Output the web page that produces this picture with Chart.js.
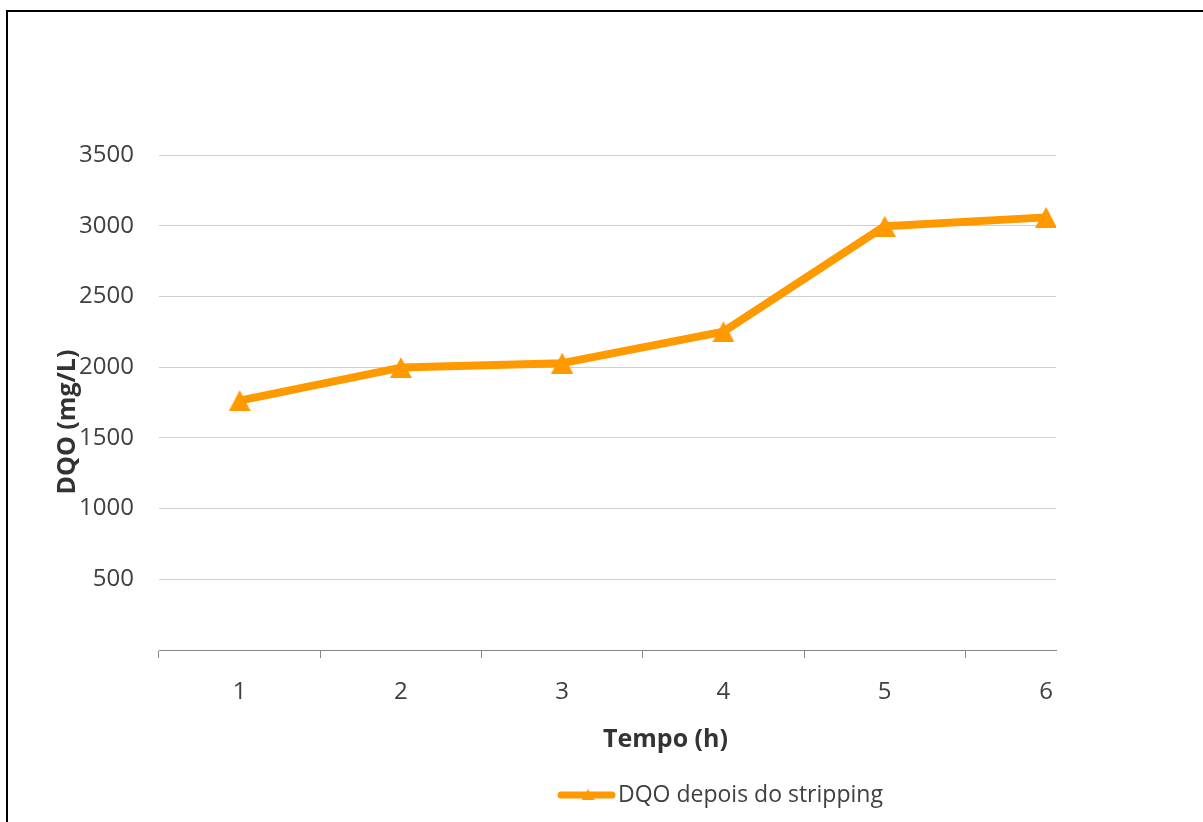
<!DOCTYPE html>
<html>
<head>
<meta charset="utf-8">
<title>DQO depois do stripping</title>
<script src="https://cdn.jsdelivr.net/npm/chart.js@4/dist/chart.umd.min.js"></script>
<style>
  html, body { margin: 0; padding: 0; background: #ffffff; overflow: hidden; }
  #wrap { position: relative; width: 1203px; height: 822px; }
  #frame {
    position: absolute; left: 6px; top: 10px; right: 0; bottom: 0;
    border-top: 2px solid #000; border-left: 2px solid #000;
    pointer-events: none;
  }
  canvas { position: absolute; left: 0; top: 0; }
</style>
</head>
<body>
<div id="wrap">
  <canvas id="chart" width="1203" height="822"></canvas>
  <div id="frame"></div>
</div>
<script>
// Tempo de stripping (h) e DQO medida (mg/L)
const hours = [1, 2, 3, 4, 5, 6];
const dqo = [1763, 1997, 2028, 2251, 2997, 3059];
const yTicks = [0, 500, 1000, 1500, 2000, 2500, 3000, 3500];

const seriesLabel = 'DQO depois do stripping';
const xTitle = 'Tempo (h)';
const yTitle = 'DQO (mg/L)';

const ORANGE = '#FF9900';
const TEXT = '#404040';
const TITLE = '#333333';

// triangle marker, centred on its own bounding box
function triangleMarker(w, h) {
  const c = document.createElement('canvas');
  c.width = w; c.height = h;
  const g = c.getContext('2d');
  g.fillStyle = ORANGE;
  g.beginPath();
  g.moveTo(w / 2, 0);
  g.lineTo(w, h);
  g.lineTo(0, h);
  g.closePath();
  g.fill();
  return c;
}
const marker = triangleMarker(22, 21);
const legendMarker = triangleMarker(13, 11);

// axis titles and legend placed at fixed spots
const decorations = {
  id: 'decorations',
  afterDraw(chart) {
    const ctx = chart.ctx;
    ctx.save();
    ctx.fillStyle = TITLE;
    ctx.font = 'bold 25px "Open Sans"';
    ctx.textAlign = 'center';
    ctx.textBaseline = 'middle';
    ctx.fillText(xTitle, 665.5, 740);
    ctx.translate(68, 422);
    ctx.rotate(-Math.PI / 2);
    ctx.fillText(yTitle, 0, 0);
    ctx.restore();

    ctx.save();
    ctx.strokeStyle = ORANGE;
    ctx.lineWidth = 7;
    ctx.lineCap = 'round';
    ctx.beginPath();
    ctx.moveTo(561, 795);
    ctx.lineTo(612, 795);
    ctx.stroke();
    ctx.drawImage(legendMarker, 588 - 6.5, 789);
    ctx.fillStyle = TEXT;
    ctx.font = '23px "Open Sans"';
    ctx.textAlign = 'left';
    ctx.textBaseline = 'alphabetic';
    ctx.fillText(seriesLabel, 618, 802);
    ctx.restore();
  }
};

new Chart(document.getElementById('chart'), {
  type: 'line',
  data: {
    datasets: [{
      label: seriesLabel,
      data: hours.map((h, i) => ({ x: h, y: dqo[i] })),
      borderColor: ORANGE,
      backgroundColor: ORANGE,
      borderWidth: 8,
      borderJoinStyle: 'round',
      borderCapStyle: 'round',
      tension: 0,
      pointStyle: marker,
      pointRadius: 11,
      clip: 0
    }]
  },
  options: {
    responsive: false,
    animation: false,
    devicePixelRatio: 1,
    layout: { padding: { top: 155, right: 147, bottom: 0, left: 0 } },
    plugins: {
      legend: { display: false },
      tooltip: { enabled: false }
    },
    scales: {
      x: {
        type: 'linear',
        min: 0.5,
        max: 6.062,
        afterBuildTicks(scale) {
          scale.ticks = hours.map(v => ({ value: v }));
        },
        afterFit(scale) { scale.height = 172; },
        grid: {
          offset: true,
          drawOnChartArea: false,
          drawTicks: true,
          tickLength: 8,
          color: '#868686',
          lineWidth: 1
        },
        border: { display: true, color: '#868686', width: 1 },
        ticks: {
          color: TEXT,
          font: { family: 'Open Sans', size: 24 },
          padding: 20,
          maxRotation: 0,
          callback: v => String(v)
        }
      },
      y: {
        min: 0,
        max: 3500,
        afterBuildTicks(scale) {
          scale.ticks = yTicks.map(v => ({ value: v }));
        },
        afterFit(scale) { scale.width = 159; },
        grid: {
          drawTicks: false,
          color: '#cfcfcf',
          lineWidth: 1
        },
        border: { display: false },
        ticks: {
          color: TEXT,
          font: { family: 'Open Sans', size: 24 },
          padding: 25,
          callback: v => (v === 0 ? '' : String(v))
        }
      }
    }
  },
  plugins: [decorations]
});
</script>
</body>
</html>
